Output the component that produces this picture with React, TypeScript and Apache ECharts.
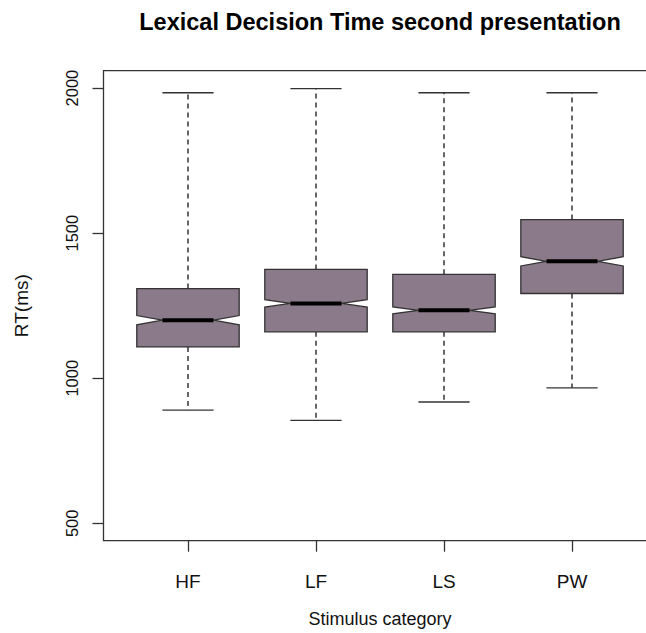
import React, { useEffect, useRef } from "react";
import * as echarts from "echarts";

const categories = ["HF", "LF", "LS", "PW"];
const whiskerLow = [890, 855, 918, 967];
const lowerQuartile = [1108, 1160, 1160, 1292];
const medians = [1200, 1258, 1234, 1403];
const upperQuartile = [1309, 1375, 1358, 1547];
const whiskerHigh = [1984, 1998, 1984, 1984];
const notchHalf = [16, 13, 12, 16];
const yTicks = [500, 1000, 1500, 2000];
const xTicks = [1, 2, 3, 4];

const FONT = "'Liberation Sans', Arial, Helvetica, sans-serif";

export default function App() {
  const ref = useRef<HTMLDivElement>(null);

  useEffect(() => {
    if (!ref.current) return;
    const chart = echarts.init(ref.current, null, { renderer: "svg" });

    const data = categories.map((c, i) => [
      i + 1,
      whiskerLow[i],
      lowerQuartile[i],
      medians[i],
      upperQuartile[i],
      whiskerHigh[i],
      notchHalf[i],
    ]);

    const renderItem = (params: any, api: any) => {
      const x = api.value(0);
      const lo = api.value(1);
      const q1 = api.value(2);
      const med = api.value(3);
      const q3 = api.value(4);
      const hi = api.value(5);
      const nh = api.value(6);
      const cx = api.coord([x, med])[0];
      const y = (v: number) => api.coord([x, v])[1];
      const hw = api.size([0.4, 0])[0];
      const capW = hw / 2;
      const medW = hw / 2;
      const dash = [5, 4];
      const pts = [
        [cx - hw, y(q1)],
        [cx - hw, y(med - nh)],
        [cx - medW, y(med)],
        [cx - hw, y(med + nh)],
        [cx - hw, y(q3)],
        [cx + hw, y(q3)],
        [cx + hw, y(med + nh)],
        [cx + medW, y(med)],
        [cx + hw, y(med - nh)],
        [cx + hw, y(q1)],
      ];
      return {
        type: "group",
        children: [
          {
            type: "line",
            shape: { x1: cx, y1: y(q3), x2: cx, y2: y(hi) },
            style: { stroke: "#000", lineWidth: 1.2, lineDash: dash },
          },
          {
            type: "line",
            shape: { x1: cx, y1: y(q1), x2: cx, y2: y(lo) },
            style: { stroke: "#000", lineWidth: 1.2, lineDash: dash },
          },
          {
            type: "line",
            shape: { x1: cx - capW, y1: y(hi), x2: cx + capW, y2: y(hi) },
            style: { stroke: "#333", lineWidth: 1.3 },
          },
          {
            type: "line",
            shape: { x1: cx - capW, y1: y(lo), x2: cx + capW, y2: y(lo) },
            style: { stroke: "#333", lineWidth: 1.3 },
          },
          {
            type: "polygon",
            shape: { points: pts },
            style: { fill: "#8B7A89", stroke: "#333", lineWidth: 1.3 },
          },
          {
            type: "line",
            shape: { x1: cx - medW, y1: y(med), x2: cx + medW, y2: y(med) },
            style: { stroke: "#000", lineWidth: 4 },
          },
        ],
      };
    };

    chart.setOption({
      animation: false,
      backgroundColor: "#ffffff",
      textStyle: { fontFamily: FONT },
      title: {
        text: "Lexical Decision Time second presentation",
        left: 375,
        top: 5,
        textAlign: "center",
        textStyle: { fontFamily: FONT, fontSize: 23.5, fontWeight: "bold", color: "#000" },
      },
      grid: {
        left: 103.5,
        right: 3.5,
        top: 70.7,
        bottom: 92.3,
        show: true,
        borderColor: "#333",
        borderWidth: 1.3,
        backgroundColor: "transparent",
        outerBoundsMode: "none",
        containLabel: false,
      },
      xAxis: {
        type: "value",
        min: 0.34,
        max: 4.66,
        name: "Stimulus category",
        nameLocation: "middle",
        nameGap: 69,
        nameTextStyle: { fontFamily: FONT, fontSize: 18, color: "#111" },
        axisLine: { show: false },
        splitLine: { show: false },
        axisTick: {
          show: true,
          customValues: xTicks,
          length: 11,
          lineStyle: { color: "#333", width: 1.3 },
        },
        axisLabel: {
          customValues: xTicks,
          margin: 31,
          fontFamily: FONT,
          fontSize: 19,
          color: "#111",
          formatter: (v: number) => categories[Math.round(v) - 1] ?? "",
        },
      },
      yAxis: {
        type: "value",
        min: 440,
        max: 2060,
        name: "RT(ms)",
        nameLocation: "middle",
        nameGap: 73,
        nameTextStyle: { fontFamily: FONT, fontSize: 19, color: "#111" },
        axisLine: { show: false },
        splitLine: { show: false },
        axisTick: {
          show: true,
          customValues: yTicks,
          length: 11,
          lineStyle: { color: "#333", width: 1.3 },
        },
        axisLabel: {
          customValues: yTicks,
          rotate: 90,
          margin: 23,
          fontFamily: FONT,
          fontSize: 16.5,
          color: "#111",
          formatter: (v: number) => String(v),
        },
      },
      series: [
        {
          type: "custom",
          renderItem,
          data,
          encode: { x: 0, y: [1, 2, 3, 4, 5] },
          clip: false,
        },
      ],
    });

    return () => chart.dispose();
  }, []);

  return (
    <div
      style={{
        position: "fixed",
        left: 0,
        top: 0,
        width: 646,
        height: 633,
        overflow: "hidden",
        background: "#fff",
      }}
    >
      <div ref={ref} style={{ width: 660, height: 633 }} />
    </div>
  );
}
